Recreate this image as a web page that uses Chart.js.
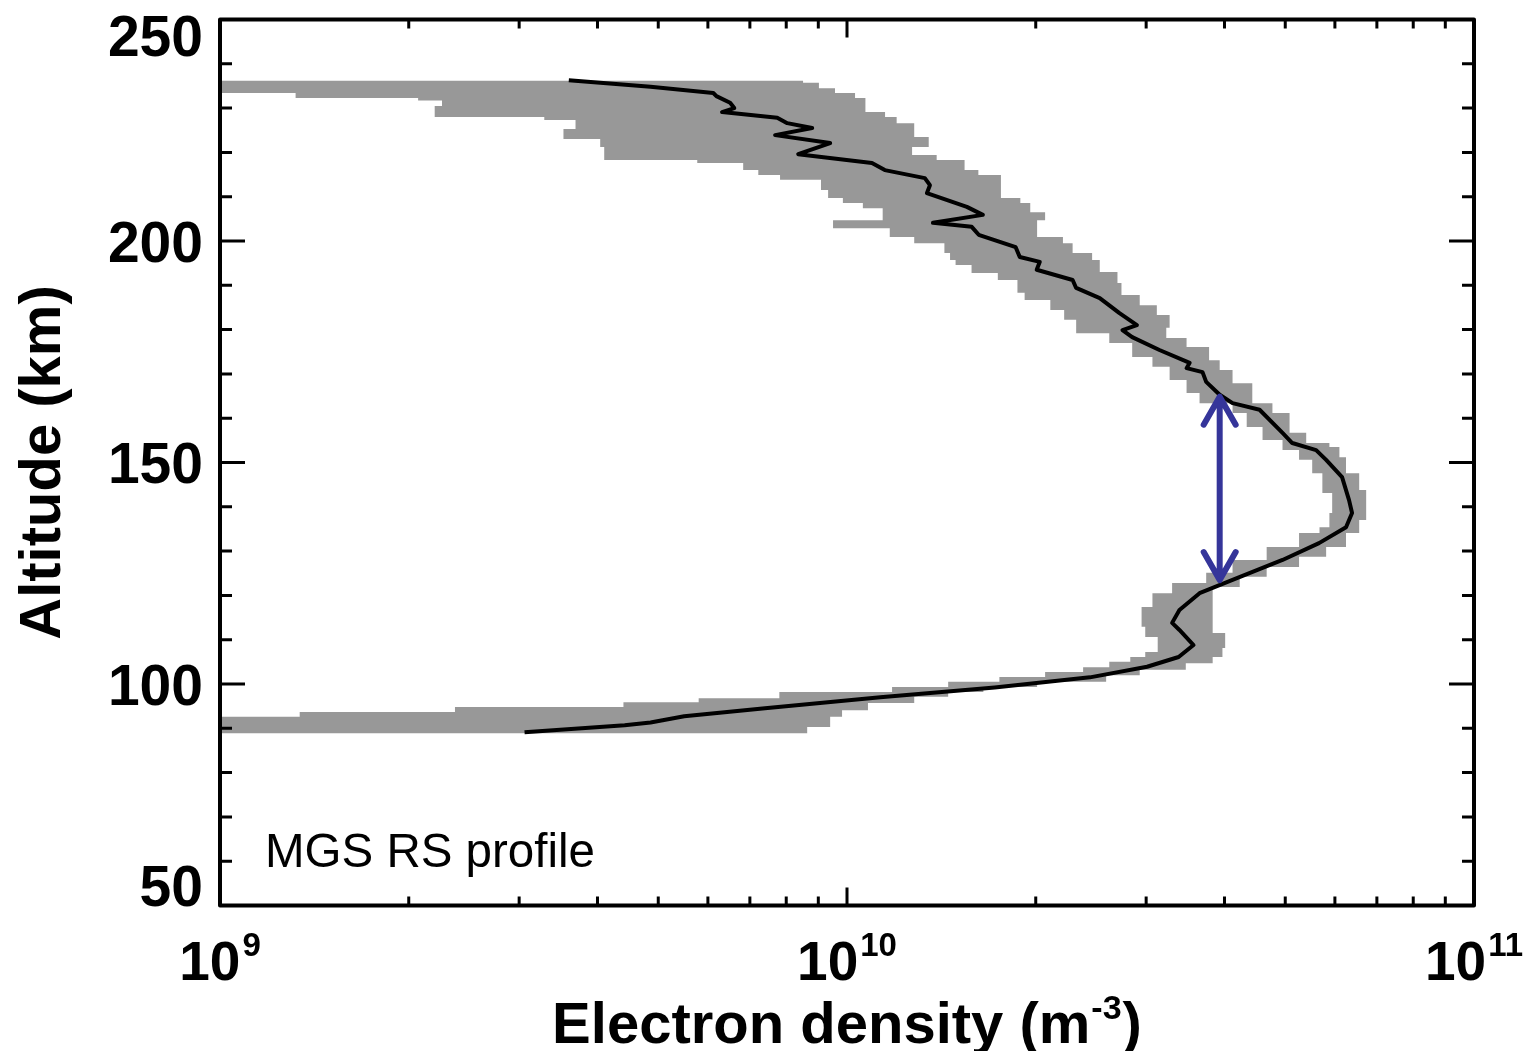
<!DOCTYPE html>
<html lang="en">
<head>
<meta charset="UTF-8">
<title>MGS RS profile</title>
<script src="https://cdn.jsdelivr.net/npm/chart.js@4.4.0/dist/chart.umd.min.js"></script>
<style>
  html, body { margin: 0; padding: 0; background: #fff; }
  #wrap { width: 1536px; height: 1051px; }
</style>
</head>
<body>
<div id="wrap"><canvas id="profileChart" width="1536" height="1051"></canvas></div>
<script>
// measured profile (black line): altitude in km, electron density in m^-3
const lineAlt = [236.3, 234.8, 233.4, 232.7, 231.2, 230.0, 229.1, 227.8, 226.6, 225.5, 223.9, 222.1, 219.6, 217.6,
  216.0, 214.2, 212.6, 210.8, 207.7, 205.9, 204.1, 203.2, 201.4, 198.6, 196.4, 195.3, 193.5, 191.2, 189.4, 187.1,
  183.7, 181.0, 179.9, 178.3, 175.4, 172.5, 171.3, 170.4, 168.2, 165.3, 163.4, 161.9, 156.7, 154.4, 152.8, 150.6,
  146.7, 141.5, 138.6, 135.4, 131.8, 128.0, 123.5, 120.5, 116.7, 113.8, 112.2, 108.8, 106.1, 103.9, 101.5, 99.2,
  97.0, 94.5, 92.7, 91.3, 90.7, 89.1];
const lineDensity = [3.60e9, 4.86e9, 6.12e9, 6.19e9, 6.51e9, 6.61e9, 6.32e9, 7.74e9, 8.03e9, 8.80e9, 7.68e9, 9.40e9, 8.36e9, 1.096e10,
  1.149e10, 1.331e10, 1.356e10, 1.341e10, 1.553e10, 1.647e10, 1.371e10, 1.581e10, 1.622e10, 1.858e10, 1.886e10, 2.03e10, 2.007e10, 2.29e10, 2.32e10, 2.53e10,
  2.72e10, 2.90e10, 2.75e10, 2.85e10, 3.15e10, 3.52e10, 3.48e10, 3.69e10, 3.74e10, 3.93e10, 4.12e10, 4.55e10, 4.95e10, 5.13e10, 5.60e10, 5.81e10,
  6.16e10, 6.32e10, 6.39e10, 6.25e10, 5.66e10, 4.95e10, 4.12e10, 3.65e10, 3.39e10, 3.30e10, 3.39e10, 3.57e10, 3.38e10, 3.01e10, 2.44e10, 1.72e10,
  1.13e10, 7.40e9, 5.50e9, 4.86e9, 4.42e9, 3.06e9];

// grey uncertainty band, low side: each step runs from its top altitude down to the next one
const lowerTop = [236.2, 233.4, 232.3, 231.7, 230.5, 228.0, 227.3, 225.3, 223.0, 221.2, 218.3, 217.6, 216.0, 214.9,
  213.8, 211.5, 209.7, 208.6, 207.4, 204.7, 202.9, 200.9, 199.5, 197.3, 195.7, 194.6, 192.8, 191.2, 188.3, 186.7,
  184.4, 182.2, 179.2, 177.0, 173.8, 171.6, 168.6, 165.7, 163.4, 161.2, 158.0, 155.1, 152.8, 150.6, 147.6, 143.1,
  138.6, 135.4, 134.1, 130.9, 128.0, 125.1, 122.8, 120.5, 117.4, 112.9, 110.6, 107.2, 106.1, 105.0, 103.8, 102.7,
  101.6, 100.5, 99.3, 98.2, 96.8, 95.9, 94.8, 93.7, 92.6];
const lowerDensity = [5e8, 1.32e9, 2.07e9, 2.26e9, 2.20e9, 3.29e9, 3.69e9, 3.53e9, 4.04e9, 4.10e9, 5.77e9, 6.83e9, 7.22e9, 7.82e9,
  9.09e9, 9.33e9, 9.85e9, 1.06e10, 1.14e10, 9.5e9, 1.17e10, 1.28e10, 1.43e10, 1.46e10, 1.49e10, 1.58e10, 1.74e10, 1.87e10, 1.92e10, 2.11e10,
  2.22e10, 2.32e10, 2.62e10, 2.85e10, 3.07e10, 3.27e10, 3.48e10, 3.65e10, 4.12e10, 4.34e10, 4.60e10, 4.95e10, 5.26e10, 5.52e10, 5.73e10, 5.94e10,
  5.88e10, 5.67e10, 5.26e10, 4.67e10, 4.12e10, 3.74e10, 3.30e10, 3.07e10, 2.95e10, 2.99e10, 3.13e10, 2.99e10, 2.83e10, 2.62e10, 2.38e10, 2.07e10,
  1.75e10, 1.45e10, 1.18e10, 7.8e9, 5.8e9, 4.4e9, 2.37e9, 1.34e9, 5e8];

// high side of the band
const upperTop = [236.2, 235.7, 234.5, 233.4, 232.3, 229.1, 228.0, 226.6, 223.5, 221.2, 219.4, 218.3, 216.0, 214.9,
  209.7, 208.6, 206.5, 204.7, 200.9, 199.5, 197.3, 195.7, 193.0, 190.5, 187.8, 185.5, 183.3, 180.4, 178.1, 176.1,
  173.1, 170.9, 167.9, 163.4, 161.2, 156.7, 154.4, 153.5, 151.2, 147.6, 143.8, 137.0, 134.1, 130.9, 128.7, 126.4,
  124.2, 121.9, 111.5, 108.1, 106.1, 104.7, 103.2, 102.0, 100.5, 99.3, 98.2, 97.1, 95.7, 94.1, 92.6, 90.3];
const upperDensity = [8.51e9, 9.02e9, 9.57e9, 1.03e10, 1.07e10, 1.15e10, 1.20e10, 1.28e10, 1.35e10, 1.27e10, 1.39e10, 1.54e10, 1.62e10, 1.76e10,
  1.89e10, 1.96e10, 2.07e10, 2.01e10, 2.21e10, 2.29e10, 2.46e10, 2.53e10, 2.70e10, 2.74e10, 2.93e10, 3.12e10, 3.27e10, 3.23e10, 3.48e10, 3.78e10,
  3.93e10, 4.12e10, 4.43e10, 4.77e10, 5.08e10, 5.40e10, 5.88e10, 6.10e10, 6.25e10, 6.56e10, 6.73e10, 6.56e10, 6.25e10, 5.81e10, 5.26e10, 4.67e10,
  4.23e10, 3.83e10, 4.01e10, 3.97e10, 3.83e10, 3.47e10, 2.93e10, 2.59e10, 2.01e10, 1.65e10, 1.45e10, 1.28e10, 1.08e10, 9.82e9, 9.40e9, 8.64e9];
const bandBottom = 88.9;

// double arrow marking the layer
const arrowDensity = 3.93e10;
const arrowTop = 165.3;
const arrowBottom = 123.0;

// axis ticks
const densityTicks = [1e9, 2e9, 3e9, 4e9, 5e9, 6e9, 7e9, 8e9, 9e9, 1e10, 2e10, 3e10, 4e10, 5e10, 6e10, 7e10, 8e10, 9e10, 1e11];
const altitudeTicks = [50, 60, 70, 80, 90, 100, 110, 120, 130, 140, 150, 160, 170, 180, 190, 200, 210, 220, 230, 240, 250];
const altitudeLabels = [50, 100, 150, 200, 250];

const FONT = '"Liberation Sans", Arial, Helvetica, sans-serif';

function steps(tops, dens, bottom) {
    const pts = [];
    tops.forEach((top, i) => {
        const low = i + 1 < tops.length ? tops[i + 1] : bottom;
        pts.push({ x: dens[i], y: top }, { x: dens[i], y: low });
    });
    return pts;
}

// closed outline: low side going down, high side coming back up
const bandShape = steps(lowerTop, lowerDensity, bandBottom)
    .concat(steps(upperTop, upperDensity, bandBottom).reverse());
const profile = lineAlt.map((a, i) => ({ x: lineDensity[i], y: a }));

// IDL style frame: ticks inside on all four sides, labels drawn by hand
const framePlugin = {
    id: 'frame',
    afterDatasetsDraw(chart) {
        const { ctx, chartArea: a, scales: { x, y } } = chart;
        ctx.save();

        // arrow
        const ax = x.getPixelForValue(arrowDensity);
        const at = y.getPixelForValue(arrowTop);
        const ab = y.getPixelForValue(arrowBottom);
        ctx.strokeStyle = '#35359a';
        ctx.lineWidth = 6;
        ctx.lineCap = 'round';
        ctx.lineJoin = 'round';
        ctx.beginPath();
        ctx.moveTo(ax, at + 3);
        ctx.lineTo(ax, ab - 3);
        ctx.moveTo(ax - 16, at + 30);
        ctx.lineTo(ax, at + 2);
        ctx.lineTo(ax + 16, at + 30);
        ctx.moveTo(ax - 16, ab - 30);
        ctx.lineTo(ax, ab - 2);
        ctx.lineTo(ax + 16, ab - 30);
        ctx.stroke();

        // ticks
        ctx.strokeStyle = '#000';
        ctx.lineCap = 'butt';
        ctx.lineWidth = 3;
        ctx.beginPath();
        x.ticks.forEach(t => {
            const px = x.getPixelForValue(t.value);
            const lg = Math.log10(t.value);
            const len = Math.abs(lg - Math.round(lg)) < 1e-6 ? 18 : 9;
            ctx.moveTo(px, a.bottom); ctx.lineTo(px, a.bottom - len);
            ctx.moveTo(px, a.top); ctx.lineTo(px, a.top + len);
        });
        y.ticks.forEach(t => {
            const py = y.getPixelForValue(t.value);
            const len = t.value % 50 === 0 ? 25 : 12;
            ctx.moveTo(a.left, py); ctx.lineTo(a.left + len, py);
            ctx.moveTo(a.right, py); ctx.lineTo(a.right - len, py);
        });
        ctx.stroke();
        ctx.lineWidth = 4;
        ctx.strokeRect(a.left, a.top, a.right - a.left, a.bottom - a.top);

        // y labels, kept inside the frame at the ends
        ctx.fillStyle = '#000';
        ctx.font = 'bold 57px ' + FONT;
        ctx.textAlign = 'right';
        ctx.textBaseline = 'alphabetic';
        altitudeLabels.forEach(v => {
            const py = y.getPixelForValue(v);
            const mid = Math.min(Math.max(py, a.top + 15.5), a.bottom - 20);
            ctx.fillText(String(v), a.left - 17, mid + 20.5);
        });

        // x labels: 10 with exponent
        ctx.textAlign = 'left';
        x.ticks.forEach(t => {
            const lg = Math.log10(t.value);
            if (Math.abs(lg - Math.round(lg)) > 1e-6) return;
            const px = x.getPixelForValue(t.value);
            const exp = String(Math.round(lg));
            ctx.font = 'bold 55px ' + FONT;
            const wb = ctx.measureText('10').width;
            ctx.font = 'bold 33px ' + FONT;
            const ws = ctx.measureText(exp).width;
            const x0 = px - (wb + ws + 2) / 2;
            ctx.font = 'bold 55px ' + FONT;
            ctx.fillText('10', x0, 980);
            ctx.font = 'bold 33px ' + FONT;
            ctx.fillText(exp, x0 + wb + 2, 956);
        });

        // x title with superscript
        const t1 = 'Electron density (m', t2 = '-3', t3 = ')';
        ctx.font = 'bold 58px ' + FONT;
        const w1 = ctx.measureText(t1).width, w3 = ctx.measureText(t3).width;
        ctx.font = 'bold 34px ' + FONT;
        const w2 = ctx.measureText(t2).width;
        let tx = (a.left + a.right) / 2 - (w1 + w2 + w3 + 2) / 2;
        ctx.font = 'bold 58px ' + FONT;
        ctx.fillText(t1, tx, 1043);
        tx += w1 + 1;
        ctx.font = 'bold 34px ' + FONT;
        ctx.fillText(t2, tx, 1019);
        tx += w2 + 1;
        ctx.font = 'bold 58px ' + FONT;
        ctx.fillText(t3, tx, 1043);

        // y title
        ctx.save();
        ctx.translate(60, (a.top + a.bottom) / 2);
        ctx.rotate(-Math.PI / 2);
        ctx.textAlign = 'center';
        ctx.font = 'bold 58px ' + FONT;
        ctx.fillText('Altitude (km)', 0, 0);
        ctx.restore();

        // annotation
        ctx.font = '47.5px ' + FONT;
        ctx.textAlign = 'left';
        ctx.fillText('MGS RS profile', 265, 867);

        ctx.restore();
    }
};

new Chart(document.getElementById('profileChart'), {
    type: 'line',
    data: {
        datasets: [
            {
                data: bandShape,
                fill: 'shape',
                backgroundColor: '#989898',
                borderColor: 'transparent',
                borderWidth: 0,
                pointRadius: 0,
                order: 2
            },
            {
                data: profile,
                fill: false,
                borderColor: '#000',
                borderWidth: 4,
                borderJoinStyle: 'round',
                pointRadius: 0,
                order: 1
            }
        ]
    },
    options: {
        responsive: false,
        animation: false,
        events: [],
        layout: { padding: { left: 220, top: 19.5, right: 62, bottom: 145.5 } },
        plugins: { legend: { display: false }, tooltip: { enabled: false } },
        scales: {
            x: {
                type: 'logarithmic', min: 1e9, max: 1e11, display: false,
                ticks: { autoSkip: false },
                afterBuildTicks: s => { s.ticks = densityTicks.map(v => ({ value: v })); }
            },
            y: {
                type: 'linear', min: 50, max: 250, display: false,
                ticks: { autoSkip: false },
                afterBuildTicks: s => { s.ticks = altitudeTicks.map(v => ({ value: v })); }
            }
        }
    },
    plugins: [framePlugin]
});
</script>
</body>
</html>
